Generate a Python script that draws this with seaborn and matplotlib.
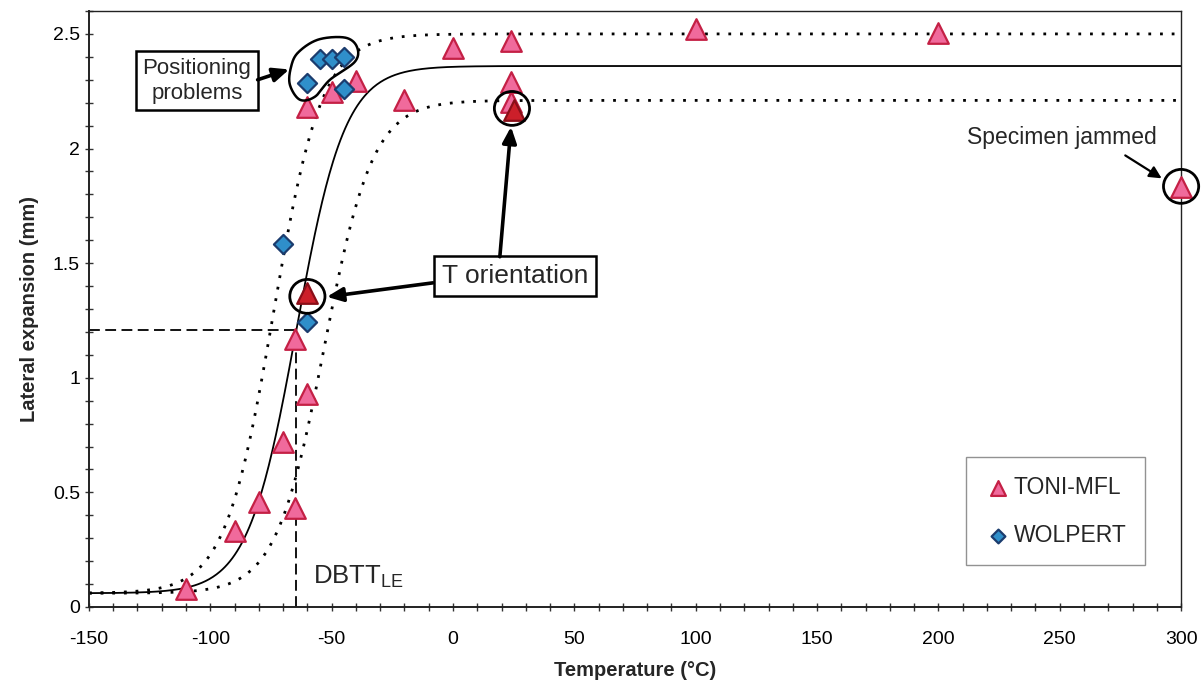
import numpy as np
import pandas as pd
import matplotlib
matplotlib.use("Agg")
import matplotlib.pyplot as plt
from matplotlib.path import Path
from matplotlib.patches import PathPatch, Ellipse
from matplotlib.ticker import MultipleLocator
import seaborn as sns

# Charpy lateral expansion data
toni_temp = [-110, -90, -80, -70, -65, -65, -60, -60, -50, -40, -20, 0, 24, 24, 24, 100, 200, 300]
toni_le = [0.08, 0.33, 0.46, 0.72, 0.43, 1.17, 0.93, 2.18, 2.245, 2.295, 2.21, 2.44, 2.47, 2.29, 2.205, 2.52, 2.505, 1.83]

t_orient_temp = [-60, 25]
t_orient_le = [1.37, 2.17]

wolpert_temp = [-70, -60, -60, -55, -50, -45, -45]
wolpert_le = [1.585, 1.245, 2.285, 2.39, 2.39, 2.40, 2.26]

# tanh fit parameters: lower shelf, upper shelf, T0, C
fit_mean = (0.06, 2.36, -64.5, 20.0)
fit_upper = (0.06, 2.50, -74.0, 20.0)
fit_lower = (0.06, 2.21, -53.0, 20.0)
dbtt = -64.5
dbtt_le = 1.21


def tanh_curve(t, p):
    lo, hi, t0, c = p
    return (hi + lo) / 2 + (hi - lo) / 2 * np.tanh((t - t0) / c)


sns.set_theme(style="white")
plt.rcParams["font.family"] = ["Liberation Sans", "DejaVu Sans"]
plt.rcParams["axes.unicode_minus"] = False

fig = plt.figure(figsize=(12.02, 6.83), dpi=100)
ax = fig.add_axes([0.074, 0.1113, 0.9086, 0.8726])

t = np.linspace(-150, 300, 900)
curves = pd.DataFrame({
    "T": np.concatenate([t, t, t]),
    "LE": np.concatenate([tanh_curve(t, fit_mean), tanh_curve(t, fit_upper), tanh_curve(t, fit_lower)]),
    "fit": ["mean"] * len(t) + ["upper"] * len(t) + ["lower"] * len(t),
})
sns.lineplot(data=curves[curves.fit == "mean"], x="T", y="LE", color="black", lw=1.3, ax=ax, legend=False)
for name in ["upper", "lower"]:
    sns.lineplot(data=curves[curves.fit == name], x="T", y="LE", color="black", lw=2.0,
                 ax=ax, legend=False, linestyle=(0, (1, 3.2)))

# DBTT construction lines
ax.plot([-150, dbtt], [dbtt_le, dbtt_le], color="black", lw=1.3, ls=(0, (6, 3)))
ax.plot([dbtt, dbtt], [0, dbtt_le], color="black", lw=1.3, ls=(0, (6, 3)))

sns.scatterplot(x=toni_temp, y=toni_le, marker="^", s=220, color="#f06a9c",
                edgecolor="#c42045", linewidth=1.6, ax=ax, label="TONI-MFL", zorder=5, clip_on=False)
sns.scatterplot(x=t_orient_temp, y=t_orient_le, marker="^", s=220, color="#cc1f2a",
                edgecolor="#8a0e18", linewidth=1.6, ax=ax, zorder=6)
sns.scatterplot(x=wolpert_temp, y=wolpert_le, marker="D", s=95, color="#2f8fca",
                edgecolor="#1b3c6e", linewidth=1.6, ax=ax, label="WOLPERT", zorder=5)

ax.set_xlim(-150, 300)
ax.set_ylim(0, 2.6)
ax.xaxis.set_major_locator(MultipleLocator(50))
ax.xaxis.set_minor_locator(MultipleLocator(10))
ax.yaxis.set_minor_locator(MultipleLocator(0.1))
ax.set_yticks([0, 0.5, 1, 1.5, 2, 2.5])
ax.set_yticklabels(["0", "0.5", "1", "1.5", "2", "2.5"])
ax.tick_params(which="both", direction="inout", length=6, width=1, colors="#333333",
               labelcolor="black", labelsize=14, bottom=True, left=True)
ax.tick_params(axis="x", pad=14)
for side, sp in ax.spines.items():
    sp.set_color("#222222")
    sp.set_linewidth(1.4 if side in ("left", "bottom") else 1.0)

ax.set_xlabel("Temperature (°C)", fontsize=14.5, fontweight="bold", labelpad=10)
ax.set_ylabel("Lateral expansion (mm)", fontsize=14.5, fontweight="bold", labelpad=10)

leg = ax.legend(loc="lower right", bbox_to_anchor=(0.967, 0.07), borderaxespad=0, fontsize=16.5,
                frameon=True, fancybox=False, edgecolor="#777777", handletextpad=0.1,
                borderpad=0.8, labelspacing=1.1, handlelength=1.2, markerscale=0.72)
leg.get_frame().set_linewidth(1.0)

# Annotations
box = dict(boxstyle="square,pad=0.3", fc="white", ec="black", lw=1.8)
arrow = dict(arrowstyle="-|>,head_length=0.8,head_width=0.35", color="black", lw=2.6, shrinkA=0, shrinkB=0)

ax.text(-57.5, 0.13, r"DBTT$_{\mathregular{LE}}$", fontsize=18.5, ha="left", va="center")

ax.text(-105.5, 2.296, "Positioning\nproblems", fontsize=16, ha="center", va="center",
        bbox=box, linespacing=1.25)
ax.annotate("", xy=(-67.5, 2.345), xytext=(-80.5, 2.3), arrowprops=arrow)

# outline around the misplaced specimens
blob_pts = np.array([
    (-63.9, 2.418), (-55.6, 2.475), (-44.5, 2.484), (-39.6, 2.444), (-40.4, 2.379),
    (-50.7, 2.30), (-56.9, 2.226), (-63.1, 2.213), (-67.2, 2.278), (-66.8, 2.353),
])


def closed_smooth(pts, n=40):
    out = []
    m = len(pts)
    for i in range(m):
        p0, p1, p2, p3 = pts[i - 1], pts[i], pts[(i + 1) % m], pts[(i + 2) % m]
        for s in np.linspace(0, 1, n, endpoint=False):
            s2, s3 = s * s, s * s * s
            out.append(0.5 * ((2 * p1) + (-p0 + p2) * s + (2 * p0 - 5 * p1 + 4 * p2 - p3) * s2
                              + (-p0 + 3 * p1 - 3 * p2 + p3) * s3))
    out.append(out[0])
    return np.array(out)


bp = closed_smooth(blob_pts)
ax.add_patch(PathPatch(Path(bp), fill=False, ec="black", lw=1.8, zorder=7))

ax.text(25.5, 1.445, "T orientation", fontsize=19, ha="center", va="center", bbox=box)
ax.annotate("", xy=(-52, 1.353), xytext=(-8.3, 1.414), arrowprops=arrow)
ax.annotate("", xy=(23.9, 2.095), xytext=(19.3, 1.528), arrowprops=arrow)

ax.text(251, 2.05, "Specimen jammed", fontsize=16.5, ha="center", va="center")
ax.annotate("", xy=(292, 1.87), xytext=(277, 1.97),
            arrowprops=dict(arrowstyle="-|>,head_length=0.6,head_width=0.3", color="black",
                            lw=1.6, shrinkA=0, shrinkB=0))

# circles around highlighted specimens
for cx, cy in [(-60, 1.355), (24.3, 2.175), (300, 1.835)]:
    ax.add_patch(Ellipse((cx, cy), width=14.5, height=0.148, fill=False,
                         ec="black", lw=2.0, zorder=7, clip_on=False))

fig.savefig("out.png", dpi=100, facecolor="white")
